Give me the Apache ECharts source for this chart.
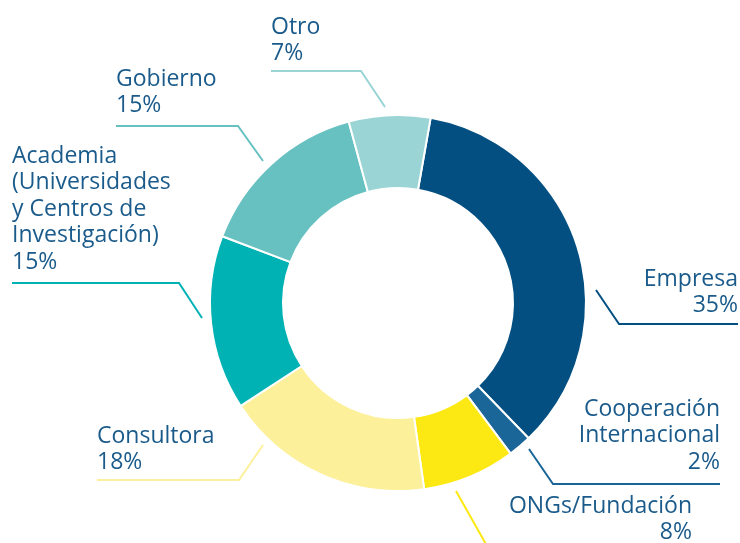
<!DOCTYPE html>
<html>
<head>
<meta charset="utf-8">
<script src="https://cdn.jsdelivr.net/npm/echarts@6/dist/echarts.min.js"></script>
<style>
  html, body { margin: 0; padding: 0; background: #fff; }
  #donut { width: 740px; height: 543px; }
</style>
</head>
<body>
<div id="donut"></div>
<script>
// chart data, clockwise from the top
const sectors = ['Empresa', 'Cooperación\nInternacional', 'ONGs/Fundación', 'Consultora',
  'Academia\n(Universidades\ny Centros de\nInvestigación)', 'Gobierno', 'Otro'];
const shares = [35, 2, 8, 18, 15, 15, 7];
const sectorColors = ['#034f82', '#1a6699', '#fce812', '#fdf09a', '#00b2b4', '#68c1c1', '#9ad4d4'];

// where each label and its leader line sit (page pixels)
const labelSpots = [
  { x: 738, y: 266, align: 'right', line: [[596, 290], [619, 324], [738, 324]] },
  { x: 720, y: 396, align: 'right', line: [[529, 449], [553, 484], [720, 484]] },
  { x: 692, y: 493, align: 'right', line: [[456, 491], [487, 546], [692, 546]] },
  { x: 97, y: 423, align: 'left', line: [[263, 445], [239, 480], [97, 480]] },
  { x: 12, y: 143, align: 'left', line: [[202, 318], [179, 283], [12, 283]] },
  { x: 116, y: 66, align: 'left', line: [[263, 161], [238, 126], [116, 126]] },
  { x: 271, y: 14, align: 'left', line: [[385, 107], [361, 71], [271, 71]] }
];

var myChart = echarts.init(document.getElementById('donut'));
var option;

option = {
  animation: false,
  series: [
    {
      type: 'pie',
      center: [398, 303],
      radius: [115, 188],
      startAngle: 80,
      clockwise: true,
      avoidLabelOverlap: false,
      itemStyle: {
        borderColor: '#ffffff',
        borderWidth: 2
      },
      label: {
        show: true,
        position: 'outside',
        formatter: '{b}\n{c}%',
        color: '#1a5b8b',
        fontFamily: 'Open Sans',
        fontSize: 23,
        lineHeight: 26.5
      },
      labelLine: {
        show: true,
        length: 10,
        length2: 10,
        lineStyle: { width: 2 }
      },
      labelLayout: function (params) {
        const spot = labelSpots[params.dataIndex];
        return {
          x: spot.x,
          y: spot.y,
          align: spot.align,
          verticalAlign: 'top',
          labelLinePoints: spot.line
        };
      },
      emphasis: { disabled: true },
      data: sectors.map(function (name, i) {
        return { name: name, value: shares[i], itemStyle: { color: sectorColors[i] } };
      })
    }
  ]
};

option && myChart.setOption(option);
</script>
</body>
</html>
